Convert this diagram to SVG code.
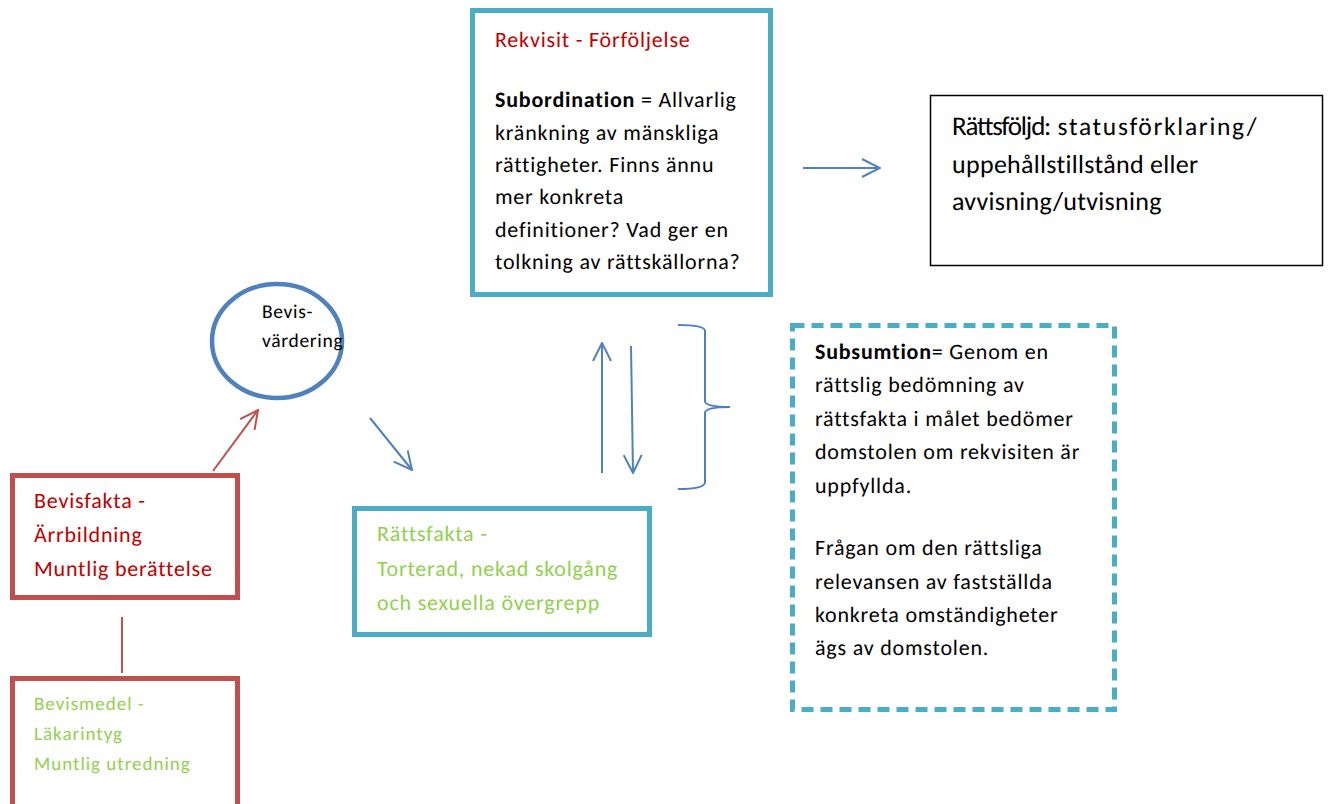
<svg xmlns="http://www.w3.org/2000/svg" width="1329" height="804" viewBox="0 0 1329 804">
<style>
text{font-family:Carlito,"Liberation Sans",sans-serif;font-size:22px;letter-spacing:0.8px;fill:#000;text-rendering:geometricPrecision}
.red{fill:#C00000}
.green{fill:#92D050}
.teal{fill:#fff;stroke:#4BACC6;stroke-width:5}
.rbox{fill:#fff;stroke:#C0504D;stroke-width:5}
.blue{fill:none;stroke:#4F81BD;stroke-width:2}
.rf{font-size:26px;letter-spacing:0.3px}
.rf1{font-size:27px;letter-spacing:-1.2px}
.rf2{font-size:25.5px;letter-spacing:1.7px}
.ell{font-size:19.5px;letter-spacing:0.7px}
.sm{font-size:19px;letter-spacing:1px}
</style>
<defs>
<marker id="abL" viewBox="0 0 20 20" refX="19" refY="10" markerWidth="20" markerHeight="20" markerUnits="userSpaceOnUse" orient="auto"><path d="M1,1 L19,10 L1,19" fill="none" stroke="#4F81BD" stroke-width="2"/></marker>
<marker id="ar" viewBox="0 0 20 20" refX="19" refY="10" markerWidth="20" markerHeight="20" markerUnits="userSpaceOnUse" orient="auto"><path d="M1,1 L19,10 L1,19" fill="none" stroke="#C0504D" stroke-width="2"/></marker>
</defs>
<rect width="1329" height="804" fill="#fff"/>
<g id="connectors">
<line x1="803" y1="168" x2="880" y2="168" class="blue" marker-end="url(#abL)"/>
<line x1="213" y1="471" x2="258" y2="410" stroke="#C0504D" stroke-width="2" marker-end="url(#ar)"/>
<line x1="370" y1="418" x2="412" y2="470" class="blue" marker-end="url(#abL)"/>
<line x1="602" y1="473" x2="602" y2="343" class="blue" marker-end="url(#abL)"/>
<line x1="631" y1="346" x2="633" y2="473" class="blue" marker-end="url(#abL)"/>
<path d="M678,325 Q705,325 705,331 L705,401 Q705,407 730,407 Q705,407 705,413 L705,482 Q705,489 678,489" class="blue"/>
<line x1="122" y1="617" x2="122" y2="673" stroke="#C0504D" stroke-width="2"/>
</g>
<g id="rekvisit">
<rect x="472.5" y="10.5" width="298" height="284" class="teal"/>
<text x="495" y="47" class="red">Rekvisit - Förföljelse</text>
<text x="495" y="107"><tspan font-weight="bold">Subordination</tspan> = Allvarlig</text>
<text x="495" y="140">kränkning av mänskliga</text>
<text x="495" y="172">rättigheter. Finns ännu</text>
<text x="495" y="204">mer konkreta</text>
<text x="495" y="237">definitioner? Vad ger en</text>
<text x="495" y="269">tolkning av rättskällorna?</text>
</g>
<g id="rattsfoljd">
<rect x="930.5" y="95.5" width="392" height="170" fill="#fff" stroke="#000" stroke-width="1.5"/>
<text x="952" y="135"><tspan class="rf1">Rättsföljd:</tspan><tspan class="rf2"> statusförklaring/</tspan></text>
<text x="952" y="173" class="rf">uppehållstillstånd eller</text>
<text x="952" y="210" class="rf">avvisning/utvisning</text>
</g>
<g id="bevisvardering">
<ellipse cx="277" cy="341" rx="65" ry="57" fill="#fff" stroke="#4F81BD" stroke-width="4.5"/>
<text x="262" y="318" class="ell">Bevis-</text>
<text x="262" y="347" class="ell">värdering</text>
</g>
<g id="rattsfakta">
<rect x="354.5" y="508.5" width="295" height="126" class="teal"/>
<text x="377" y="541" class="green">Rättsfakta -</text>
<text x="377" y="576" class="green">Torterad, nekad skolgång</text>
<text x="377" y="610" class="green">och sexuella övergrepp</text>
</g>
<g id="subsumtion">
<rect x="792.5" y="325.5" width="322" height="384" fill="#fff" stroke="#4BACC6" stroke-width="5" stroke-dasharray="12 7"/>
<text x="815" y="359"><tspan font-weight="bold">Subsumtion</tspan>= Genom en</text>
<text x="815" y="392">rättslig bedömning av</text>
<text x="815" y="426">rättsfakta i målet bedömer</text>
<text x="815" y="459">domstolen om rekvisiten är</text>
<text x="815" y="493">uppfyllda.</text>
<text x="815" y="555">Frågan om den rättsliga</text>
<text x="815" y="589">relevansen av fastställda</text>
<text x="815" y="622">konkreta omständigheter</text>
<text x="815" y="655">ägs av domstolen.</text>
</g>
<g id="bevisfakta">
<rect x="12.5" y="475.5" width="225" height="122" class="rbox"/>
<text x="34" y="508" class="red">Bevisfakta -</text>
<text x="34" y="542" class="red">Ärrbildning</text>
<text x="34" y="576" class="red">Muntlig berättelse</text>
</g>
<g id="bevismedel">
<rect x="12.5" y="678.5" width="225" height="140" class="rbox"/>
<text x="34" y="710" class="green sm">Bevismedel -</text>
<text x="34" y="740" class="green sm">Läkarintyg</text>
<text x="34" y="770" class="green sm">Muntlig utredning</text>
</g>
</svg>
